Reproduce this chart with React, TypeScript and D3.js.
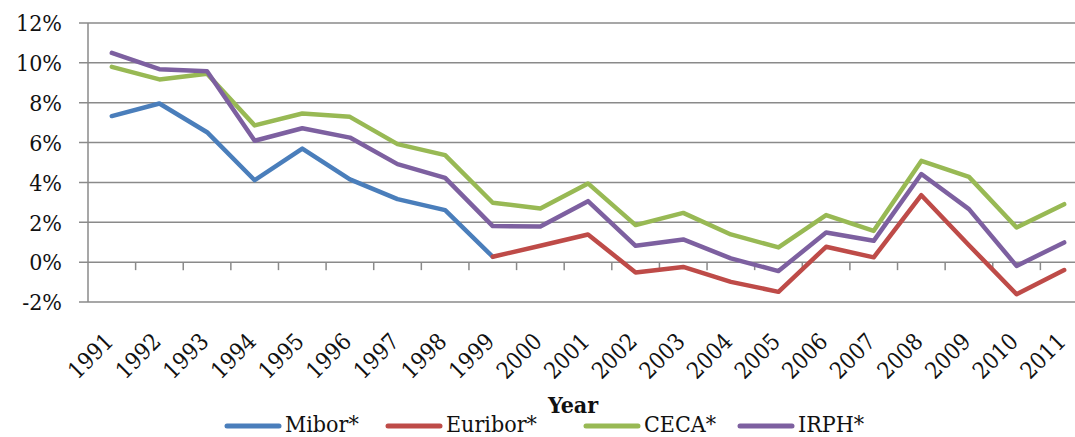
import React from "react";
import * as d3 from "d3";

const years = ["1991","1992","1993","1994","1995","1996","1997","1998","1999","2000","2001","2002","2003","2004","2005","2006","2007","2008","2009","2010","2011"];
const mibor: (number | null)[] = [7.33, 7.96, 6.52, 4.11, 5.7, 4.15, 3.16, 2.61, 0.27, null, null, null, null, null, null, null, null, null, null, null, null];
const euribor: (number | null)[] = [null, null, null, null, null, null, null, null, 0.27, 0.82, 1.39, -0.52, -0.24, -0.99, -1.49, 0.77, 0.24, 3.36, 0.85, -1.61, -0.4];
const ceca: (number | null)[] = [9.8, 9.17, 9.45, 6.86, 7.46, 7.29, 5.92, 5.37, 2.98, 2.69, 3.95, 1.86, 2.47, 1.39, 0.74, 2.36, 1.57, 5.08, 4.28, 1.74, 2.91];
const irph: (number | null)[] = [10.5, 9.68, 9.58, 6.09, 6.72, 6.25, 4.92, 4.23, 1.81, 1.79, 3.06, 0.82, 1.14, 0.19, -0.45, 1.49, 1.07, 4.42, 2.66, -0.19, 0.99];
const yTicks = [-2, 0, 2, 4, 6, 8, 10, 12];

const series = [
  { name: "Mibor*", values: mibor, color: "#4A7EBB" },
  { name: "Euribor*", values: euribor, color: "#BE4B48" },
  { name: "CECA*", values: ceca, color: "#98B954" },
  { name: "IRPH*", values: irph, color: "#7D60A0" },
];
const legendX = [227, 388, 586, 740];

const FONT = "'DejaVu Serif Condensed', 'DejaVu Serif', serif";

export default function App() {
  const W = 1075, H = 437;
  const left = 88, right = 1088, top = 23, bottom = 302;
  const x = d3.scaleBand<string>().domain(years).range([left, right]);
  const y = d3.scaleLinear().domain([-2, 12]).range([bottom, top]);
  const line = d3.line<number | null>()
    .defined((d) => d !== null)
    .x((_, i) => (x(years[i]) as number) + x.bandwidth() / 2)
    .y((d) => y(d as number));
  const grid = "#8a8a8a";
  return (
    <svg width={W} height={H} style={{ position: "absolute", left: 0, top: 0, background: "#fff" }} fontFamily={FONT}>
      {yTicks.map((t) => (
        <g key={t}>
          <line x1={left - 9} x2={right} y1={y(t)} y2={y(t)} stroke={grid} strokeWidth={1.5} />
          <text x={62} y={y(t)} dy="0.36em" textAnchor="end" fontSize={23} fill="#111">{t}%</text>
        </g>
      ))}
      <line x1={left} x2={left} y1={top} y2={bottom} stroke={grid} strokeWidth={1.5} />
      {years.slice(1).map((yr) => (
        <line key={yr} x1={x(yr)} x2={x(yr)} y1={y(0)} y2={y(0) + 8} stroke={grid} strokeWidth={1.5} />
      ))}
      {series.map((s) => (
        <path key={s.name} d={line(s.values) || ""} fill="none" stroke={s.color} strokeWidth={4.5} strokeLinejoin="round" strokeLinecap="round" />
      ))}
      {years.map((yr) => {
        const cx = (x(yr) as number) + x.bandwidth() / 2;
        return (
          <text key={yr} transform={`translate(${cx + 3},${bottom + 41}) rotate(-45)`} textAnchor="end" fontSize={23} fill="#111">{yr}</text>
        );
      })}
      <text x={573} y={413} textAnchor="middle" fontSize={23} fontWeight="bold" fill="#111">Year</text>
      {series.map((s, i) => (
        <g key={s.name}>
          <line x1={legendX[i]} x2={legendX[i] + 52} y1={426} y2={426} stroke={s.color} strokeWidth={5} strokeLinecap="round" />
          <text x={legendX[i] + 58} y={432} fontSize={23} fill="#111">{s.name}</text>
        </g>
      ))}
    </svg>
  );
}
